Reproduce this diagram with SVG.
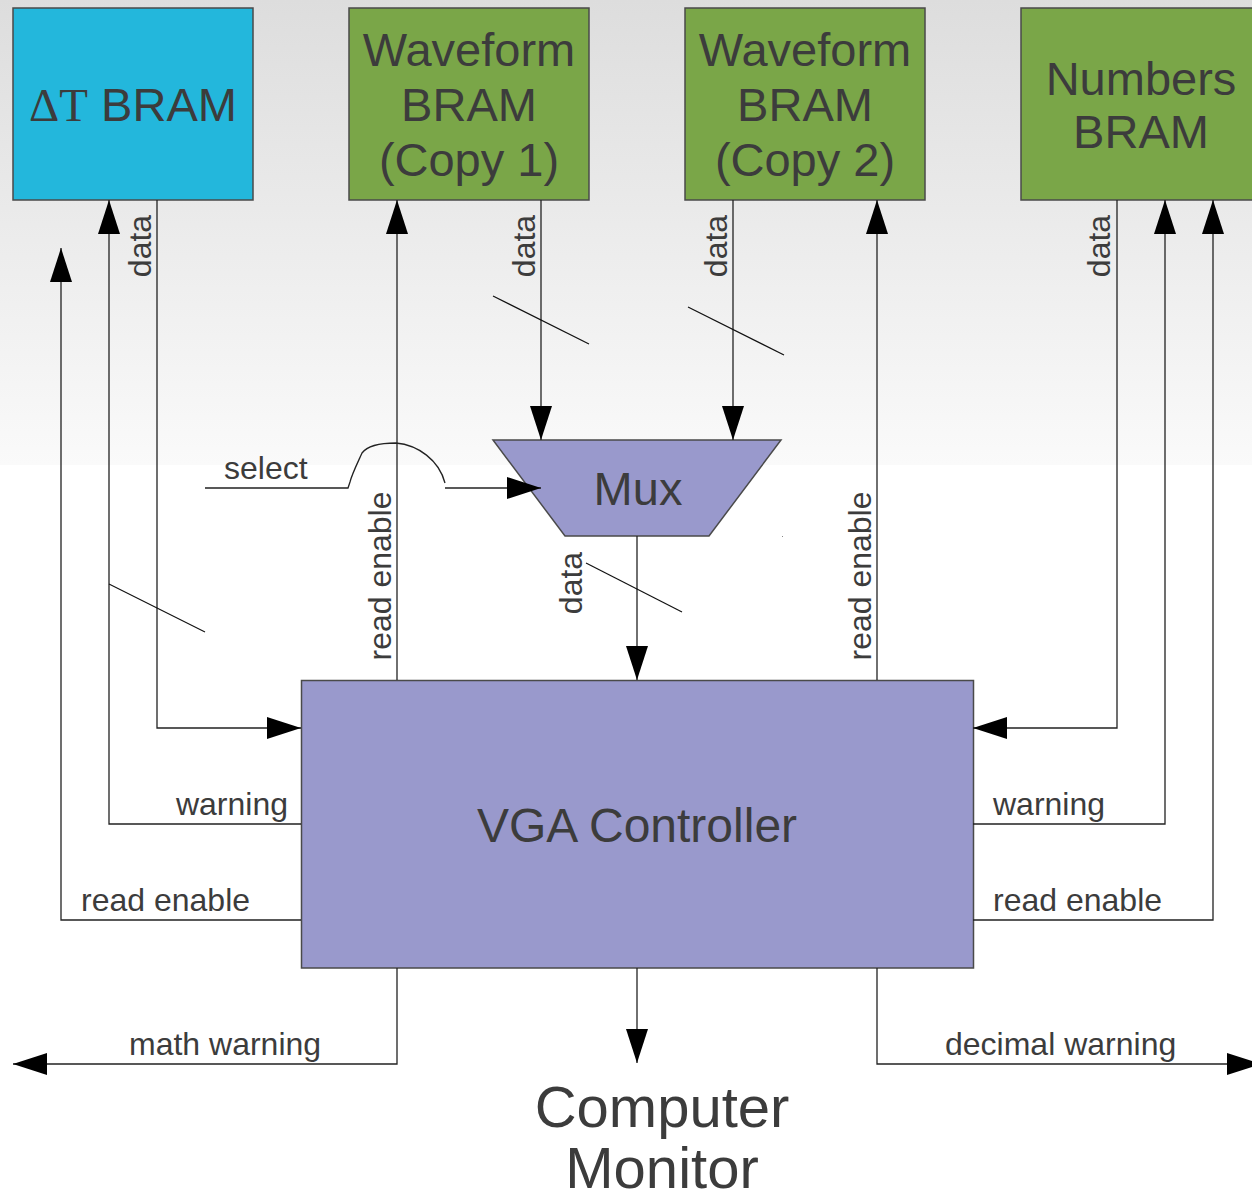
<svg xmlns="http://www.w3.org/2000/svg" width="1252" height="1196" viewBox="0 0 1252 1196">
  <defs>
    <linearGradient id="bg" x1="0" y1="0" x2="0" y2="1">
      <stop offset="0" stop-color="#dddddd"/>
      <stop offset="1" stop-color="#fafafa"/>
    </linearGradient>
    <marker id="arrow" markerUnits="userSpaceOnUse" markerWidth="34" markerHeight="22" refX="34" refY="11" orient="auto">
      <path d="M0,0 L34,11 L0,22 z" fill="#000"/>
    </marker>
    <style>
      .box { stroke: #4a4a4a; stroke-width: 1.5; }
      .bram-cyan { fill: #23b7dc; }
      .bram-green { fill: #7aa648; }
      .logic { fill: #9999cc; }
      .big { font-family: "Liberation Sans", Arial, sans-serif; font-size: 47px; fill: #3c3c3c; text-anchor: middle; }
      .huge { font-size: 58px; }
      .lbl { font-family: "Liberation Sans", Arial, sans-serif; font-size: 32px; fill: #3c3c3c; }
      .wire { fill: none; stroke: #222; stroke-width: 1.3; }
      .arr { marker-end: url(#arrow); }
      .bus { stroke: #111; stroke-width: 1.2; }
    </style>
  </defs>

  <!-- background -->
  <rect x="0" y="0" width="1252" height="1196" fill="#ffffff"/>
  <rect x="0" y="0" width="1252" height="465" fill="url(#bg)"/>

  <!-- memory blocks -->
  <g id="dt-bram">
    <rect class="box bram-cyan" x="13" y="8" width="240" height="192"/>
    <text class="big" x="133" y="121"><tspan font-family="'Liberation Serif', 'Times New Roman', serif">ΔT</tspan> BRAM</text>
  </g>
  <g id="waveform-bram-1">
    <rect class="box bram-green" x="349" y="8" width="240" height="192"/>
    <text class="big" x="469" y="66">Waveform</text>
    <text class="big" x="469" y="121">BRAM</text>
    <text class="big" x="469" y="176">(Copy 1)</text>
  </g>
  <g id="waveform-bram-2">
    <rect class="box bram-green" x="685" y="8" width="240" height="192"/>
    <text class="big" x="805" y="66">Waveform</text>
    <text class="big" x="805" y="121">BRAM</text>
    <text class="big" x="805" y="176">(Copy 2)</text>
  </g>
  <g id="numbers-bram">
    <rect class="box bram-green" x="1021" y="8" width="245" height="192"/>
    <text class="big" x="1141" y="95">Numbers</text>
    <text class="big" x="1141" y="148">BRAM</text>
  </g>

  <!-- multiplexer -->
  <g id="mux">
    <polygon class="box logic" points="493,440 781,440 709,536 565,536"/>
    <text class="big" x="638" y="505">Mux</text>
  </g>

  <!-- VGA controller -->
  <g id="vga-controller">
    <rect class="box logic" x="301.5" y="680.5" width="672" height="287.5"/>
    <text class="big" x="637" y="842" style="font-size:48px">VGA Controller</text>
  </g>

  <!-- monitor -->
  <g id="computer-monitor">
    <text class="big huge" x="662" y="1127">Computer</text>
    <text class="big huge" x="662" y="1188">Monitor</text>
  </g>

  <!-- connectors -->
  <g id="connectors">
    <!-- delta T BRAM -->
    <path class="wire arr" d="M301,920 H61 V248"/>
    <path class="wire arr" d="M301,824 H109 V200"/>
    <path class="wire arr" d="M157,200 V728 H301"/>
    <line class="bus" x1="109" y1="584" x2="205" y2="632"/>

    <!-- waveform BRAMs -->
    <path class="wire arr" d="M397,680 V200"/>
    <path class="wire arr" d="M541,200 V440"/>
    <line class="bus" x1="493" y1="296" x2="589" y2="344"/>
    <path class="wire arr" d="M733,200 V440"/>
    <line class="bus" x1="688" y1="307" x2="784" y2="355"/>
    <path class="wire arr" d="M877,680 V200"/>

    <!-- select with hop over the read enable line -->
    <path class="wire" d="M205,488 H348 L350,482 C352,474 358,462 362,453 C368,445 380,443 396,443 C418,445 439,460 445,483"/>
    <path class="wire arr" d="M445,488 H541"/>

    <!-- mux output -->
    <path class="wire arr" d="M637,536 V680"/>
    <line class="bus" x1="586" y1="563" x2="682" y2="612"/>

    <!-- numbers BRAM -->
    <path class="wire arr" d="M1117,200 V728 H973"/>
    <path class="wire arr" d="M973,824 H1165 V200"/>
    <path class="wire arr" d="M973,920 H1213 V200"/>

    <!-- outputs -->
    <path class="wire arr" d="M397,968 V1064 H13"/>
    <path class="wire arr" d="M877,968 V1064 H1261"/>
    <path class="wire arr" d="M637,968 V1063"/>

    <rect x="782" y="536" width="1" height="1" fill="#888"/>
  </g>

  <!-- connector labels -->
  <g id="labels">
    <text class="lbl" text-anchor="middle" transform="translate(151,246) rotate(-90)">data</text>
    <text class="lbl" text-anchor="middle" transform="translate(535,246) rotate(-90)">data</text>
    <text class="lbl" text-anchor="middle" transform="translate(727,246) rotate(-90)">data</text>
    <text class="lbl" text-anchor="middle" transform="translate(1110,246) rotate(-90)">data</text>
    <text class="lbl" text-anchor="middle" transform="translate(582,583) rotate(-90)">data</text>
    <text class="lbl" text-anchor="middle" transform="translate(391,576) rotate(-90)">read enable</text>
    <text class="lbl" text-anchor="middle" transform="translate(871,576) rotate(-90)">read enable</text>
    <text class="lbl" x="224" y="479">select</text>
    <text class="lbl" x="288" y="815" text-anchor="end">warning</text>
    <text class="lbl" x="81" y="911">read enable</text>
    <text class="lbl" x="993" y="815">warning</text>
    <text class="lbl" x="993" y="911">read enable</text>
    <text class="lbl" x="129" y="1055">math warning</text>
    <text class="lbl" x="945" y="1055">decimal warning</text>
  </g>
</svg>
